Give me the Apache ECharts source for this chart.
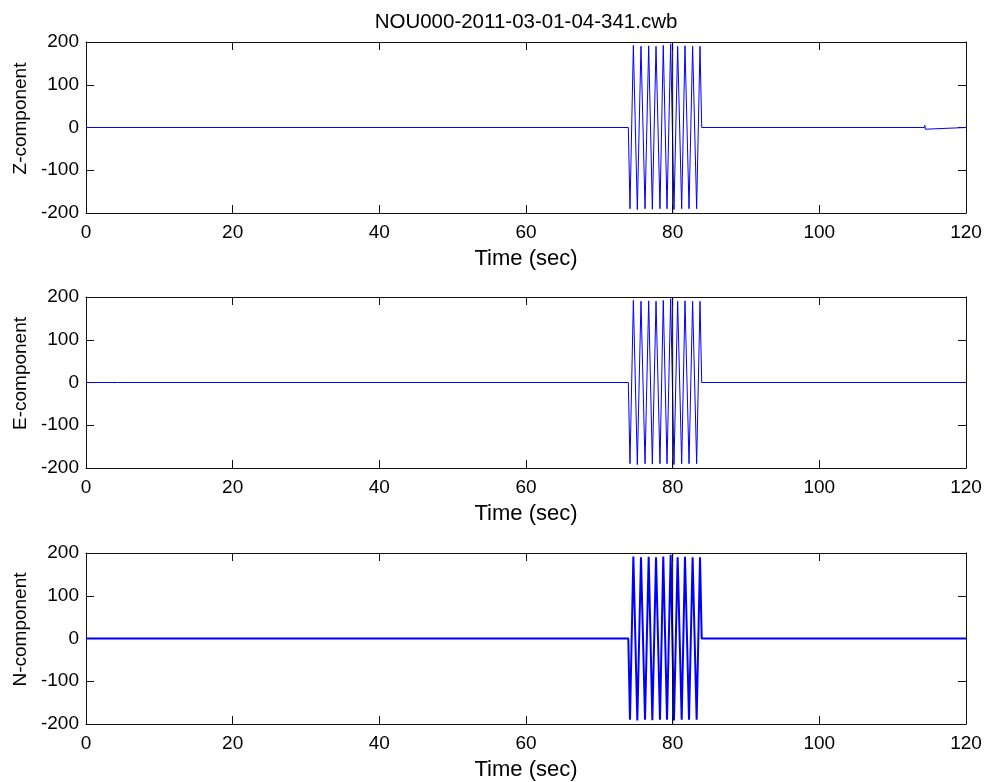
<!DOCTYPE html>
<html>
<head>
<meta charset="utf-8">
<script src="https://cdn.jsdelivr.net/npm/echarts@6/dist/echarts.min.js"></script>
<style>
html,body{margin:0;padding:0;background:#fff;}
#chart{width:989px;height:782px;}
</style>
</head>
<body>
<div id="chart"></div>
<script>
// ---- data ----
const titleText = 'NOU000-2011-03-01-04-341.cwb';
const componentNames = ['Z-component', 'E-component', 'N-component'];
const xTicks = [0, 20, 40, 60, 80, 100, 120];
const yTicks = [-200, -100, 0, 100, 200];

// burst (same in all components)
const burstTime  = [73.95, 74.18, 74.64, 75.18, 75.68, 76.23, 76.73, 77.23, 77.73, 78.27, 78.72, 79.23, 79.73, 80.18, 80.68, 81.23, 81.68, 82.23, 82.72, 83.27, 83.73, 83.96];
const burstValue = [0, -190, 192, -192, 190, -190, 191, -191, 190, -190, 192, -190, 196, -192, 190, -190, 191, -190, 190, -190, 190, 0];

// small glitches on the flat parts
const zGlitchTime  = [114.3, 114.4, 114.45, 114.5];
const zGlitchValue = [0, 5, -4, 0];
const eGlitchTime  = [4.3, 4.4, 4.45, 4.5];
const eGlitchValue = [0, 4, -3, 0];
const nGlitchTime  = [118.6, 118.7, 118.75, 118.8];
const nGlitchValue = [0, 3, -2, 0];

const traceStartTime = 0;
const traceEndTime = 120;
const markerTime = 80;
const markerRange = [-200, 200];

// ---- build series ----
function pairs(t, v) { return t.map((x, i) => [x, v[i]]); }
const zData = [[traceStartTime, 0]].concat(pairs(burstTime, burstValue), pairs(zGlitchTime, zGlitchValue), [[traceEndTime, 0]]);
const eData = [[traceStartTime, 0]].concat(pairs(eGlitchTime, eGlitchValue), pairs(burstTime, burstValue), [[traceEndTime, 0]]);
const nData = [[traceStartTime, 0]].concat(pairs(burstTime, burstValue), pairs(nGlitchTime, nGlitchValue), [[traceEndTime, 0]]);
const allData = [zData, eData, nData];

const FONT = '"Liberation Sans", Arial, Helvetica, sans-serif';
const gridTops = [42, 297, 553];
const gridH = 171;
const L = 86, R = 989 - 966;

function axisLine() { return { show: true, onZero: false, lineStyle: { color: '#111', width: 1 } }; }
function axisTick() { return { show: true, inside: true, length: 8, lineStyle: { color: '#111', width: 1 } }; }

const grids = [], xAxes = [], yAxes = [], series = [];
gridTops.forEach((top, i) => {
  grids.push({ left: L, right: R, top: top, height: gridH, show: false });
  const xBase = { type: 'value', min: 0, max: 120, interval: 20, gridIndex: i, splitLine: { show: false } };
  xAxes.push(Object.assign({}, xBase, {
    position: 'bottom', axisLine: axisLine(), axisTick: axisTick(),
    axisLabel: { fontSize: 19, color: '#000', fontFamily: FONT, margin: 10, formatter: v => xTicks.includes(v) ? String(v) : '' },
    name: 'Time (sec)', nameLocation: 'middle', nameGap: 35,
    nameTextStyle: { fontSize: 22, color: '#000', fontFamily: FONT }
  }));
  xAxes.push(Object.assign({}, xBase, { position: 'top', axisLine: axisLine(), axisTick: axisTick(), axisLabel: { show: false } }));
  const yBase = { type: 'value', min: -200, max: 200, interval: 100, gridIndex: i, splitLine: { show: false } };
  yAxes.push(Object.assign({}, yBase, {
    position: 'left', axisLine: axisLine(), axisTick: axisTick(),
    axisLabel: { fontSize: 19, color: '#000', fontFamily: FONT, margin: 7, formatter: v => yTicks.includes(v) ? String(v) : '' },
    name: componentNames[i], nameLocation: 'middle', nameGap: 52, nameRotate: 90,
    nameTextStyle: { fontSize: 19, color: '#000', fontFamily: FONT, padding: [0, 0, 0, 18] }
  }));
  yAxes.push(Object.assign({}, yBase, { position: 'right', axisLine: axisLine(), axisTick: axisTick(), axisLabel: { show: false } }));
  series.push({
    type: 'line', xAxisIndex: 2 * i, yAxisIndex: 2 * i, z: 3,
    data: allData[i], showSymbol: false, symbol: 'none', animation: false,
    lineStyle: { color: '#0000ff', width: i === 2 ? 2 : 1 }
  });
  series.push({
    type: 'line', xAxisIndex: 2 * i, yAxisIndex: 2 * i, z: 4,
    data: markerRange.map(v => [markerTime, v]), showSymbol: false, symbol: 'none', animation: false,
    lineStyle: { color: '#000', width: 1 }
  });
});

const chart = echarts.init(document.getElementById('chart'), null, { renderer: 'canvas' });
chart.setOption({
  backgroundColor: '#fff',
  animation: false,
  title: {
    text: titleText, left: 521, textAlign: 'center', top: 7,
    textStyle: { fontSize: 20.5, fontWeight: 'normal', color: '#000', fontFamily: FONT }
  },
  grid: grids, xAxis: xAxes, yAxis: yAxes, series: series
});
</script>
</body>
</html>
